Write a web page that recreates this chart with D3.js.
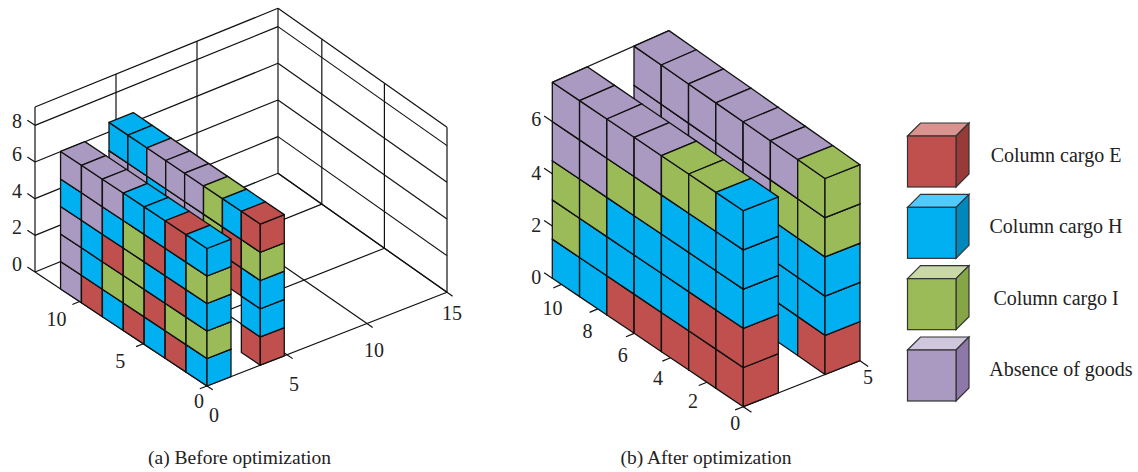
<!DOCTYPE html>
<html lang="en">
<head>
    <meta charset="UTF-8">
    <title>Column cargo layout before and after optimization</title>
    <script src="https://d3js.org/d3.v7.min.js"></script>
    <style>
        body { margin: 0; background: #fff; }
        svg { display: block; }
        text { font-family: "Liberation Serif", serif; fill: #222; }
        .grid { fill: none; stroke: #111; stroke-width: 1.2px; }
        .face { stroke: #111; stroke-width: 1.3px; stroke-linejoin: round; }
    </style>
</head>
<body>
<div id="chart"></div>
<script>
    // cargo stacks, each column listed bottom to top, column 0 is nearest the x=0 end
    // lower boxes of the rear rows are hidden in the picture, so those are estimates
    const beforeFrontRow = [
        ["H", "I", "H", "I", "H"],
        ["E", "I", "E", "H", "E"],
        ["H", "E", "H", "E", "H"],
        ["E", "I", "I", "I", "H"],
        ["H", "I", "E", "H", "A"],
        ["E", "H", "H", "A", "A"],
        ["A", "A", "A", "H", "A"]
    ];
    const beforeBackRow = [
        ["E", "H", "H", "I", "E"],
        [null, null, "E", "E", "H"],
        [null, null, "E", "I", "I"],
        ["H", "E", "H", "A", "A"],
        ["E", "H", "I", "A", "A"],
        ["H", "E", "I", "H", "A"],
        ["E", "H", "I", "A", "H"],
        ["H", "E", "I", "A", "H"]
    ];
    const afterFrontRow = [
        ["E", "E", "H", "H", "H"],
        ["E", "E", "H", "H", "I"],
        ["E", "H", "H", "H", "I"],
        ["E", "H", "H", "I", "A"],
        ["E", "H", "H", "I", "A"],
        ["H", "H", "I", "A", "A"],
        ["H", "I", "I", "A", "A"]
    ];
    const afterBackRow = [
        ["E", "H", "H", "I", "I"],
        ["H", "H", "H", "I", "A"],
        ["H", "H", "I", "A", "A"],
        ["H", "H", "I", "A", "A"],
        ["H", "H", "I", "A", "A"],
        ["H", "H", "I", "A", "A"],
        ["H", "H", "I", "A", "A"]
    ];

    const legendKeys = ["E", "H", "I", "A"];
    const legendLabels = ["Column cargo E", "Column cargo H", "Column cargo I", "Absence of goods"];
    const beforeXTicks = [0, 5, 10];
    const beforeYTicks = [0, 5, 10, 15];
    const beforeZTicks = [0, 2, 4, 6, 8];
    const afterXTicks = [0, 2, 4, 6, 8, 10];
    const afterYTicks = [5];
    const afterZTicks = [0, 2, 4, 6];

    const cargoColor = d3.scaleOrdinal().domain(legendKeys).range(["#C0504D", "#00B0F0", "#9BBB59", "#AA99C0"]);
    const cargoTop = d3.scaleOrdinal().domain(legendKeys).range(["#D99490", "#4FCBFF", "#C8D8A8", "#CFC7DE"]);
    const cargoSide = d3.scaleOrdinal().domain(legendKeys).range(["#983B38", "#0088BC", "#85A547", "#8E77A9"]);

    const svg = d3.select("#chart").append("svg").attr("width", 1138).attr("height", 472);

    // oblique view: each data axis maps to a screen vector, twist closes the slight skew of the box
    function makeView(o) {
        const xs = [0, 1].map(i => d3.scaleLinear().domain([0, o.xMax]).range([0, o.xVec[i]]));
        const ys = [0, 1].map(i => d3.scaleLinear().domain([0, o.yMax]).range([0, o.yVec[i]]));
        const zs = d3.scaleLinear().domain([0, o.zMax]).range([0, -o.zLen]);
        const t = d3.scaleLinear().domain([0, o.xMax * o.yMax]);
        const tx = t.copy().range([0, o.twist[0]]);
        const ty = t.copy().range([0, o.twist[1]]);
        return (x, y, z) => [
            o.origin[0] + xs[0](x) + ys[0](y) + tx(x * y),
            o.origin[1] + xs[1](x) + ys[1](y) + zs(z) + ty(x * y)
        ];
    }

    const path = d3.line();

    function drawSegments(g, view, segs) {
        g.selectAll(null).data(segs).join("path")
            .attr("class", "grid")
            .attr("d", s => path([view(...s[0]), view(...s[1])]));
    }

    // rear boxes go first so nearer ones cover them
    function drawRow(g, view, row, o) {
        const boxes = [];
        row.forEach((col, i) => col.forEach((key, k) => {
            if (key) boxes.push({key, x0: i * o.dx, x1: (i + 1) * o.dx, z0: k * o.dz, z1: (k + 1) * o.dz});
        }));
        boxes.sort((a, b) => d3.descending(a.x0, b.x0) || d3.ascending(a.z0, b.z0));
        const y0 = o.y, y1 = o.y + o.dy;
        boxes.forEach(b => {
            const faces = [
                [[b.x0, y0, b.z0], [b.x1, y0, b.z0], [b.x1, y0, b.z1], [b.x0, y0, b.z1]],
                [[b.x0, y0, b.z0], [b.x0, y1, b.z0], [b.x0, y1, b.z1], [b.x0, y0, b.z1]],
                [[b.x0, y0, b.z1], [b.x1, y0, b.z1], [b.x1, y1, b.z1], [b.x0, y1, b.z1]]
            ];
            g.selectAll(null).data(faces).enter().append("path")
                .attr("class", "face")
                .attr("fill", cargoColor(b.key))
                .attr("d", f => path(f.map(p => view(...p))) + "Z");
        });
    }

    function drawLabels(g, view, ticks, at, offset) {
        g.selectAll(null).data(ticks).join("text")
            .attr("x", t => view(...at(t))[0] + offset(t)[0])
            .attr("y", t => view(...at(t))[1] + offset(t)[1])
            .attr("text-anchor", "middle")
            .attr("font-size", 20)
            .text(t => t);
    }

    // (a) before optimization
    const before = svg.append("g");
    const xMaxA = 13.5, yMaxA = 15, zMaxA = 9;
    const viewA = makeView({
        origin: [207, 386], xMax: xMaxA, yMax: yMaxA, zMax: zMaxA,
        xVec: [-172, -114], yVec: [240, -93.7], zLen: 165, twist: [3, -5]
    });
    const segsA = [];
    beforeZTicks.concat([zMaxA]).forEach(z => {
        segsA.push([[xMaxA, 0, z], [xMaxA, yMaxA, z]]);
        segsA.push([[xMaxA, yMaxA, z], [0, yMaxA, z]]);
    });
    [0, 5, 10, 15].forEach(y => {
        segsA.push([[xMaxA, y, 0], [xMaxA, y, zMaxA]]);
        segsA.push([[0, y, 0], [xMaxA, y, 0]]);
    });
    [0, 5, 10].forEach(x => {
        segsA.push([[x, yMaxA, 0], [x, yMaxA, zMaxA]]);
        segsA.push([[x, 0, 0], [x, yMaxA, 0]]);
    });
    beforeXTicks.forEach(t => segsA.push([[t, 0, 0], [t, -0.45, 0]]));
    beforeYTicks.forEach(t => segsA.push([[0, t, 0], [-0.45, t, 0]]));
    beforeZTicks.forEach(t => segsA.push([[xMaxA, 0, t], [xMaxA + 0.6, 0, t]]));
    drawSegments(before, viewA, segsA);
    drawRow(before, viewA, beforeBackRow, {y: 3.33, dy: 1.5, dx: 1.49, dz: 1.54});
    drawRow(before, viewA, beforeFrontRow, {y: 0, dy: 1.5, dx: 1.642, dz: 1.5});
    drawLabels(before, viewA, beforeXTicks, t => [t, 0, 0], t => t === 0 ? [-8, 22] : [-23, 24]);
    drawLabels(before, viewA, beforeYTicks, t => [0, t, 0], t => t === 15 ? [5, 28] : t === 10 ? [7, 33] : [7, 36]);
    drawLabels(before, viewA, beforeZTicks, t => [xMaxA, 0, t], t => t === 8 ? [-18, 3] : [-18, -1]);

    // (b) after optimization
    const after = svg.append("g");
    const xMaxB = 10.5, yMaxB = 5, zMaxB = 7.5;
    const viewB = makeView({
        origin: [743.3, 406.7], xMax: xMaxB, yMax: yMaxB, zMax: zMaxB,
        xVec: [-191, -128.4], yVec: [116.7, -46], zLen: 196, twist: [0, -5.7]
    });
    const segsB = [
        [[0, 0, 0], [0, yMaxB, 0]],
        [[xMaxB, 0, zMaxB], [xMaxB, yMaxB, zMaxB]]
    ];
    afterXTicks.forEach(t => segsB.push([[t, 0, 0], [t, -0.35, 0]]));
    afterXTicks.slice(0, 1).forEach(t => segsB.push([[t, 0, 0], [-0.45, 0, 0]]));
    afterYTicks.forEach(t => segsB.push([[0, t, 0], [-0.45, t, 0]]));
    afterZTicks.forEach(t => segsB.push([[xMaxB, 0, t], [xMaxB + 0.45, 0, t]]));
    drawSegments(after, viewB, segsB);
    drawRow(after, viewB, afterBackRow, {y: 3.5, dy: 1.5, dx: 1.5, dz: 1.5});
    drawRow(after, viewB, afterFrontRow, {y: 0, dy: 1.5, dx: 1.5, dz: 1.5});
    drawLabels(after, viewB, afterXTicks, t => [t, 0, 0], t => t === 0 ? [-8, 23] : [-15 + 0.6 * t, 24 + 0.7 * t]);
    drawLabels(after, viewB, afterYTicks, t => [0, t, 0], () => [8, 23]);
    drawLabels(after, viewB, afterZTicks, t => [xMaxB, 0, t], t => t === 6 ? [-16, 4] : [-16, 6]);

    // legend
    const legendY = d3.scalePoint().domain(legendKeys).range([136, 350]);
    const legend = svg.append("g");
    legendKeys.forEach((key, i) => {
        const x = 907.5, y = legendY(key), w = 48.5, h = 51, d = 13;
        const g = legend.append("g").attr("stroke", "#333").attr("stroke-width", 1.2);
        g.append("path").attr("fill", cargoTop(key))
            .attr("d", path([[x, y], [x + d, y - d], [x + w + d, y - d], [x + w, y]]) + "Z");
        g.append("path").attr("fill", cargoSide(key))
            .attr("d", path([[x + w, y], [x + w + d, y - d], [x + w + d, y + h - d], [x + w, y + h]]) + "Z");
        g.append("rect").attr("x", x).attr("y", y).attr("width", w).attr("height", h).attr("fill", cargoColor(key));
        legend.append("text")
            .attr("x", key === "A" ? 1061 : 1056)
            .attr("y", y + 26)
            .attr("text-anchor", "middle")
            .attr("font-size", 20)
            .text(legendLabels[i]);
    });

    // captions
    svg.append("text").attr("x", 239.5).attr("y", 464).attr("text-anchor", "middle")
        .attr("font-size", 19.5).text("(a) Before optimization");
    svg.append("text").attr("x", 706).attr("y", 464).attr("text-anchor", "middle")
        .attr("font-size", 19.5).text("(b) After optimization");
</script>
</body>
</html>
